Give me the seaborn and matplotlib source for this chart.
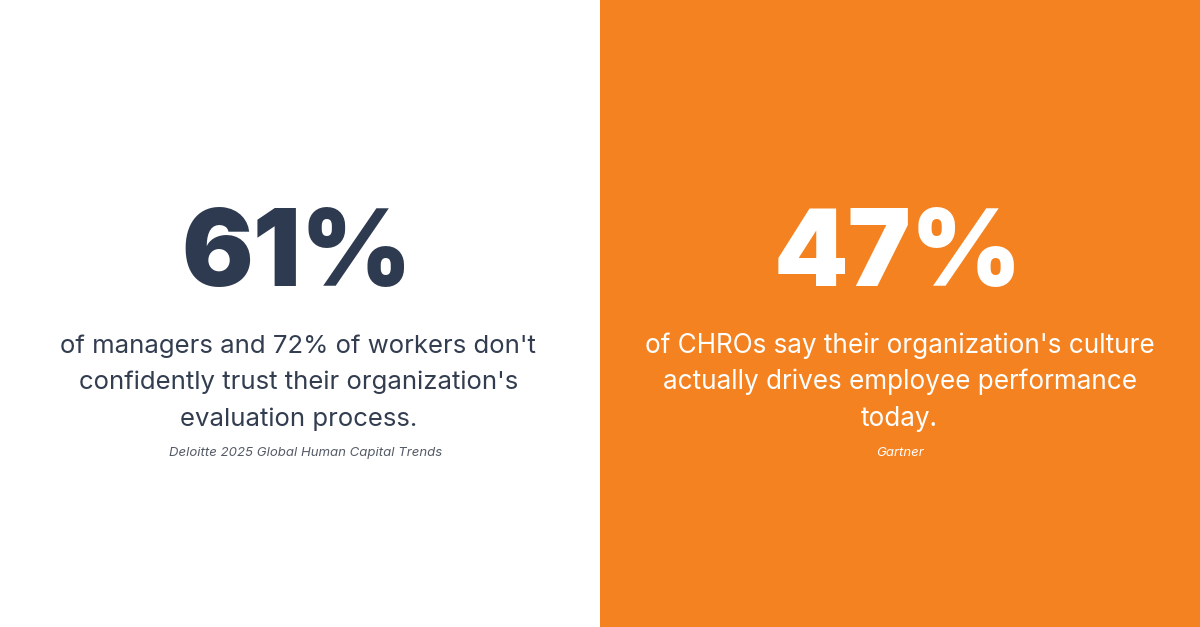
import matplotlib
matplotlib.use("Agg")
import matplotlib.pyplot as plt
import seaborn as sns

sns.set_theme(style="white")
plt.rcParams['font.family'] = ['Inter', 'DejaVu Sans']

# Data
stat_values = [61, 47]
stat_labels = ["61%", "47%"]
descriptions = [
    ["of managers and 72% of workers don't",
     "confidently trust their organization's",
     "evaluation process."],
    ["of CHROs say their organization's culture",
     "actually drives employee performance",
     "today."],
]
sources = ["Deloitte 2025 Global Human Capital Trends", "Gartner"]

panel_bg = ["#FFFFFF", "#F58220"]
num_color = ["#2E3A4F", "#FFFFFF"]
body_color = ["#333D50", "#FFFFFF"]
src_color = ["#555B66", "#FFFFFF"]
body_size = [18.5, 18.8]
center_x = [0.497, 0.4995]
num_x = [0.495, 0.497]
src_x = [0.510, 0.500]

H = 627.0
fig = plt.figure(figsize=(12, 6.27), dpi=100)
for i in range(2):
    ax = fig.add_axes([0.5 * i, 0, 0.5, 1])
    ax.set_facecolor(panel_bg[i])
    ax.set_xlim(0, 1)
    ax.set_ylim(0, 1)
    ax.set_xticks([]); ax.set_yticks([])
    for s in ax.spines.values():
        s.set_visible(False)
    ax.text(num_x[i], 1 - 285.5 / H, stat_labels[i], ha='center', va='baseline',
            fontsize=76.5, fontweight='black', color=num_color[i])
    for j, line in enumerate(descriptions[i]):
        ax.text(center_x[i], 1 - (352.7 + 36.5 * j) / H, line, ha='center', va='baseline',
                fontsize=body_size[i], color=body_color[i])
    ax.text(src_x[i], 1 - 456 / H, sources[i], ha='center', va='baseline',
            fontsize=9.5, fontstyle='italic', color=src_color[i])

fig.savefig("out.png", dpi=100)
